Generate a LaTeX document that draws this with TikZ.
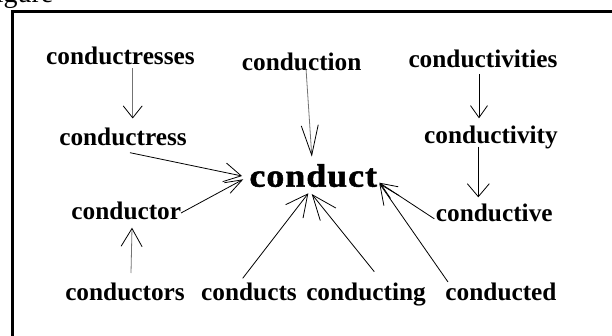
\documentclass[tikz,border=0pt]{standalone}
\usepackage{fontspec}
\setmainfont{Liberation Serif}
\newfontfamily\bigfont{Liberation Serif}[LetterSpace=3, BoldFeatures={FakeBold=1.5}]
\usetikzlibrary{arrows.meta}
\tikzset{
  word/.style={inner sep=0pt, anchor=base, font=\fontsize{25.3}{30}\selectfont\bfseries},
  root/.style={inner sep=0pt, anchor=base west, xscale=1.1, font=\bigfont\fontsize{32.5}{38}\selectfont\bfseries},
  link/.style={line width=0.8pt, draw=black},
  faint/.style={line width=0.8pt, draw=black!55},
}
\begin{document}
\begin{tikzpicture}[x=1pt,y=-1pt]
\useasboundingbox (0,0) rectangle (612,336);
\clip (0,0) rectangle (612,336);
\node[anchor=base west, inner sep=0pt, font=\fontsize{28}{32}\selectfont] (cap) at (-20,2.5) {Figure};
\draw[line width=3pt] (12.5,345) -- (12.5,11.5) -- (620,11.5);
% words
\node[word] (cs)   at (120.5,65)  {conductresses};
\node[word] (cn)   at (301.7,70.5){conduction};
\node[word] (cv)   at (483,67.7)  {conductivities};
\node[word] (cr)   at (123,145.7) {conductress};
\node[word] (cy)   at (491,143.3) {conductivity};
\node[root] (ct)   at (249.3,186.7) {conduct};
\node[word] (co)   at (126.3,220) {conductor};
\node[word] (ce)   at (494.3,221.7) {conductive};
\node[word] (cors) at (125,300)   {conductors};
\node[word] (cts)  at (249,300)   {conducts};
\node[word] (cg)   at (366,300)   {conducting};
\node[word] (cd)   at (501,300)   {conducted};
% connectors
\draw[faint, -{Straight Barb[length=12pt,width=19pt,color=black]}]
  ([shift={(12.2,3.3)}]cs.base) -- ([shift={(9.7,-27.2)}]cr.base);
\draw[faint, -{Straight Barb[length=30pt,width=17pt,color=black]}]
  ([shift={(4.3,-2)}]cn.base) -- ([shift={(-1.5,-30)}]ct.base);
\draw[link, -{Straight Barb[length=12pt,width=17pt]}]
  ([shift={(-4,6.3)}]cv.base) -- ([shift={(-12,-25)}]cy.base);
\draw[link, -{Straight Barb[length=13pt,width=22pt]}]
  ([shift={(-12.7,3.4)}]cy.base) -- ([shift={(-16,-24.4)}]ce.base);
\draw[link, -{Straight Barb[length=17pt,width=19pt]}]
  ([shift={(7,7)}]cr.base) -- ([shift={(-7.3,-10.7)}]ct.base west);
\draw[link, -{Straight Barb[length=17pt,width=12pt]}]
  ([shift={(54.7,-7)}]co.base) -- ([shift={(-6,-7.4)}]ct.base west);
\draw[faint, -{Straight Barb[length=18pt,width=21pt,color=black]}]
  ([shift={(6,-27)}]cors.base) -- ([shift={(5.7,7.7)}]co.base);
\draw[link, -{Straight Barb[length=22pt,width=22pt]}]
  ([shift={(-6.3,-21.7)}]cts.base) -- ([shift={(59,6.6)}]ct.base west);
\draw[link, -{Straight Barb[length=25pt,width=20pt]}]
  ([shift={(8.3,-28.3)}]cg.base) -- ([shift={(62.4,7.3)}]ct.base west);
\draw[link, -{Straight Barb[length=20pt,width=18pt]}]
  ([shift={(-53,-18)}]cd.base) -- ([shift={(130,-3.4)}]ct.base west);
\draw[link, -{Straight Barb[length=17pt,width=14pt]}]
  ([shift={(-60,-2.9)}]ce.base) -- ([shift={(130,-4)}]ct.base west);
\end{tikzpicture}
\end{document}
